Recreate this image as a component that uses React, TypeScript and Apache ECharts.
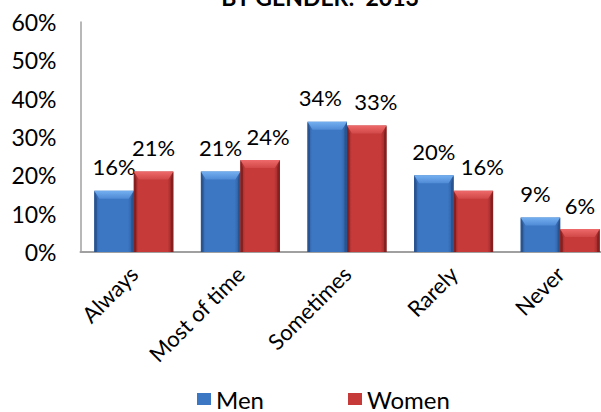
import React, { useEffect, useRef } from "react";
import * as echarts from "echarts";

const categories = ["Always", "Most of time", "Sometimes", "Rarely", "Never"];
const men = [16, 21, 34, 20, 9];
const women = [21, 24, 33, 16, 6];
const yTicks = [0, 10, 20, 30, 40, 50, 60];
const titleText = "BY GENDER:  2013";

const FONT = "Lato, 'Open Sans', sans-serif";

// label horizontal nudges (layout only, px)
const menLabelDx = [0, 0, -7, 0, -5];
const womenLabelDx = [0, 8, 9, 9, 0];

type Pal = { edge: string; body: string; bevelTop: string; bevelBot: string; side: string };
const bluePal: Pal = { edge: "#2d5a98", body: "#3c77c4", bevelTop: "#74b0f0", bevelBot: "#4f8ad6", side: "#2a5490" };
const redPal: Pal = { edge: "#8e2424", body: "#c63a3a", bevelTop: "#ee6a6a", bevelBot: "#d24848", side: "#862020" };

const makeRender = (offset: number, pal: Pal, dxs: number[]) => (params: any, api: any) => {
  const idx = api.value(0);
  const val = api.value(1);
  const top = api.coord([idx, val]);
  const base = api.coord([idx, 0]);
  const bw = 39.5;
  const cx = top[0] + offset;
  const x = cx - bw / 2;
  const y = top[1];
  const h = base[1] - y;
  const bev = Math.min(8, h / 2);
  const s = 5;
  return {
    type: "group",
    children: [
      {
        type: "rect",
        shape: { x, y, width: bw, height: h },
        style: {
          fill: new echarts.graphic.LinearGradient(0, 0, 1, 0, [
            { offset: 0, color: pal.edge },
            { offset: 0.12, color: pal.body },
            { offset: 0.85, color: pal.body },
            { offset: 1, color: pal.edge },
          ]),
        },
      },
      {
        type: "polygon",
        shape: { points: [[x, y], [x + 2.5, y + bev], [x + 2.5, base[1]], [x, base[1]]] },
        style: { fill: pal.side },
      },
      {
        type: "polygon",
        shape: { points: [[x + bw, y], [x + bw - 2.5, y + bev], [x + bw - 2.5, base[1]], [x + bw, base[1]]] },
        style: { fill: pal.side },
      },
      {
        type: "polygon",
        shape: { points: [[x, y], [x + bw, y], [x + bw - s, y + bev], [x + s, y + bev]] },
        style: {
          fill: new echarts.graphic.LinearGradient(0, 0, 0, 1, [
            { offset: 0, color: pal.bevelTop },
            { offset: 1, color: pal.bevelBot },
          ]),
        },
      },
      {
        type: "text",
        x: cx + (dxs[idx] || 0),
        y: y - 13,
        style: {
          text: val + "%",
          align: "center",
          verticalAlign: "bottom",
          font: `22px ${FONT}`,
          fill: "#000",
        },
      },
    ],
  };
};

export default function App() {
  const ref = useRef<HTMLDivElement>(null);
  useEffect(() => {
    if (!ref.current) return;
    const chart = echarts.init(ref.current, null, { renderer: "svg" });
    chart.setOption({
      animation: false,
      backgroundColor: "#ffffff",
      graphic: [
        {
          type: "text",
          x: 320,
          y: -3,
          style: {
            text: titleText,
            align: "center",
            verticalAlign: "middle",
            font: `bold 23px ${FONT}`,
            fill: "#000",
          },
        },
      ],
      legend: {
        left: 197,
        top: 387,
        padding: 0,
        itemGap: 84,
        itemWidth: 14,
        itemHeight: 12,
        icon: "rect",
        textStyle: { fontFamily: FONT, fontSize: 24, lineHeight: 20, color: "#000" },
        data: [
          { name: "Men", itemStyle: { color: bluePal.body } },
          { name: "Women", itemStyle: { color: redPal.body } },
        ],
      },
      grid: { left: 80.5, top: 22, width: 533, height: 230, outerBoundsMode: "none", containLabel: false },
      xAxis: {
        type: "category",
        data: categories,
        axisLine: { show: true, lineStyle: { color: "#a0a0a0", width: 2 } },
        axisTick: { show: false },
        axisLabel: {
          rotate: 45,
          interval: 0,
          margin: 18,
          fontFamily: FONT,
          fontSize: 22,
          color: "#000",
        },
      },
      yAxis: {
        type: "value",
        min: yTicks[0],
        max: yTicks[yTicks.length - 1],
        interval: 10,
        axisLine: { show: true, lineStyle: { color: "#a0a0a0", width: 1.5 } },
        axisTick: { show: false },
        splitLine: { show: false },
        axisLabel: {
          formatter: "{value}%",
          margin: 24,
          fontFamily: FONT,
          fontSize: 23,
          color: "#000",
        },
      },
      series: [
        {
          name: "Men",
          type: "custom",
          itemStyle: { color: bluePal.body },
          renderItem: makeRender(-19.75, bluePal, menLabelDx),
          encode: { x: 0, y: 1 },
          data: men.map((v, i) => [i, v]),
        },
        {
          name: "Women",
          type: "custom",
          itemStyle: { color: redPal.body },
          renderItem: makeRender(19.75, redPal, womenLabelDx),
          encode: { x: 0, y: 1 },
          data: women.map((v, i) => [i, v]),
        },
      ],
    });
    return () => chart.dispose();
  }, []);
  return <div ref={ref} style={{ width: 601, height: 412, position: "absolute", left: 0, top: 0 }} />;
}
